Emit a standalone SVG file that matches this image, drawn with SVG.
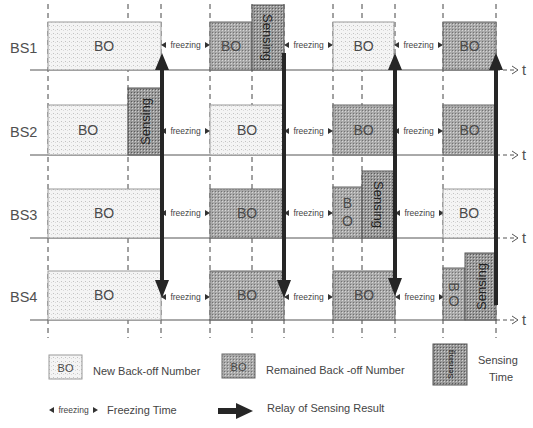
<svg xmlns="http://www.w3.org/2000/svg" width="533" height="428" viewBox="0 0 533 428">
<style>
.lab{font-family:"Liberation Sans",Arial,sans-serif;font-size:14.5px;fill:#505050}
.bo{font-family:"Liberation Sans",Arial,sans-serif;font-size:14px;fill:#4a4a4a;text-anchor:middle}
.fz{font-family:"Liberation Sans",Arial,sans-serif;font-size:8.5px;fill:#444}
.sn{font-family:"Liberation Sans",Arial,sans-serif;font-size:13px;fill:#222;text-anchor:middle}
.lg{font-family:"Liberation Sans",Arial,sans-serif;font-size:11px;fill:#444}
.light{fill:url(#pl);stroke:#9a9a9a;stroke-width:1}
.dark{fill:url(#pd);stroke:#666;stroke-width:1}
.sens{fill:url(#ps);stroke:#555;stroke-width:1}
.axis{stroke:#555;stroke-width:1;fill:none}
.vd{stroke:#444;stroke-width:1;stroke-dasharray:5 4;fill:none}
.relay{fill:#262626}
</style>
<defs>
<pattern id="pl" width="4" height="4" patternUnits="userSpaceOnUse"><rect width="4" height="4" fill="#f4f4f4"/><rect x="1" y="1" width="1" height="1" fill="#c2c2c2"/><rect x="3" y="2" width="1" height="1" fill="#dadada"/></pattern>
<pattern id="pd" width="3" height="3" patternUnits="userSpaceOnUse"><rect width="3" height="3" fill="#a9a9a9"/><rect width="1" height="1" fill="#d6d6d6"/><rect x="2" y="2" width="1" height="1" fill="#727272"/></pattern>
<pattern id="ps" width="3" height="3" patternUnits="userSpaceOnUse"><rect width="3" height="3" fill="#999"/><rect width="1" height="1" fill="#cfcfcf"/><rect x="2" y="2" width="1" height="1" fill="#5a5a5a"/></pattern>
<g id="frz"><path d="M0,0 l5,-3 v6z M49,0 l-5,-3 v6z" fill="#333"/><text x="24.5" y="3" text-anchor="middle" class="fz">freezing</text></g>
</defs>
<rect width="533" height="428" fill="#fff"/>

<g id="grid">
<path class="vd" d="M48,4V338 M128,4V338 M161,4V338 M210,4V338 M252,4V338 M284,4V338 M333,4V338 M362,4V338 M395,4V338 M443,4V338 M496,4V338"/>
</g>

<g id="axes">
<path class="axis" d="M30,70H496 M30,155H496 M30,238H496 M30,320H496"/>
<path class="axis" stroke-dasharray="4 3" d="M496,70H516 M496,155H516 M496,238H516 M496,320H516"/>
<path class="axis" d="M512,66L518,70L512,74 M512,151L518,155L512,159 M512,234L518,238L512,242 M512,316L518,320L512,324"/>
<text class="lab" x="522" y="75">t</text>
<text class="lab" x="522" y="160">t</text>
<text class="lab" x="522" y="243">t</text>
<text class="lab" x="522" y="325">t</text>
</g>

<g id="BS1">
<text class="lab" x="10" y="53">BS1</text>
<rect class="light" x="48" y="22" width="113" height="48"/><text class="bo" x="104" y="51">BO</text>
<use href="#frz" x="161" y="45"/>
<rect class="dark" x="210" y="22" width="42" height="48"/><text class="bo" x="231" y="51">BO</text>
<rect class="sens" x="252" y="5" width="32" height="65"/><text class="sn" transform="translate(268,37.5) rotate(90)" y="5">Sensing</text>
<use href="#frz" x="284" y="45"/>
<rect class="light" x="333" y="22" width="61" height="48"/><text class="bo" x="363.5" y="51">BO</text>
<use href="#frz" x="394" y="45"/>
<rect class="dark" x="443" y="22" width="53" height="48"/><text class="bo" x="469.5" y="51">BO</text>
</g>

<g id="BS2">
<text class="lab" x="10" y="137">BS2</text>
<rect class="light" x="48" y="105" width="80" height="50"/><text class="bo" x="88" y="135">BO</text>
<rect class="sens" x="128" y="88" width="33" height="67"/><text class="sn" transform="translate(144.5,121.5) rotate(-90)" y="5">Sensing</text>
<use href="#frz" x="161" y="131"/>
<rect class="light" x="210" y="105" width="74" height="50"/><text class="bo" x="247" y="135">BO</text>
<use href="#frz" x="284" y="131"/>
<rect class="dark" x="333" y="105" width="61" height="50"/><text class="bo" x="363.5" y="135">BO</text>
<use href="#frz" x="394" y="131"/>
<rect class="dark" x="443" y="105" width="53" height="50"/><text class="bo" x="469.5" y="135">BO</text>
</g>

<g id="BS3">
<text class="lab" x="10" y="220">BS3</text>
<rect class="light" x="48" y="189" width="113" height="49"/><text class="bo" x="104" y="218">BO</text>
<use href="#frz" x="161" y="213"/>
<rect class="dark" x="210" y="189" width="74" height="49"/><text class="bo" x="247" y="218">BO</text>
<use href="#frz" x="284" y="213"/>
<rect class="dark" x="333" y="187" width="29" height="51"/><text class="bo" x="347.5" y="208">B</text><text class="bo" x="347.5" y="226">O</text>
<rect class="sens" x="362" y="171" width="33" height="67"/><text class="sn" transform="translate(378.5,204.5) rotate(90)" y="5">Sensing</text>
<use href="#frz" x="395" y="213"/>
<rect class="light" x="443" y="189" width="52" height="49"/><text class="bo" x="469" y="218">BO</text>
</g>

<g id="BS4">
<text class="lab" x="10" y="302">BS4</text>
<rect class="light" x="48" y="271" width="113" height="49"/><text class="bo" x="104" y="300">BO</text>
<use href="#frz" x="161" y="297"/>
<rect class="dark" x="210" y="271" width="74" height="49"/><text class="bo" x="247" y="300">BO</text>
<use href="#frz" x="284" y="297"/>
<rect class="dark" x="333" y="271" width="62" height="49"/><text class="bo" x="364" y="300">BO</text>
<use href="#frz" x="395" y="297"/>
<rect class="dark" x="443" y="268" width="22" height="52"/><text class="bo" transform="translate(454,287) rotate(90)" y="5">B</text><text class="bo" x="454" y="306">O</text>
<rect class="sens" x="465" y="253" width="31" height="67"/><text class="sn" transform="translate(480.5,286.5) rotate(-90)" y="5">Sensing</text>
</g>

<g id="connectors">
<path class="relay" d="M160,70V280H155L162,298L169,280H164V70H169L162,53L155,70Z"/>
<path class="relay" d="M282,53V280H277L284,298L291,280H286V53Z"/>
<path class="relay" d="M393,70V278H388L395,296L402,278H397V70H402L395,53L388,70Z"/>
<path class="relay" d="M494,70V305H498V70H503L496,53L489,70Z"/>
</g>

<g id="legend">
<rect class="light" x="49" y="355" width="33" height="24"/><text class="bo" x="65.5" y="372" style="font-size:11px">BO</text>
<text class="lg" x="93" y="375">New Back-off Number</text>
<rect class="dark" x="222" y="354" width="33" height="24"/><text class="bo" x="238.5" y="371" style="font-size:11px">BO</text>
<text class="lg" x="266" y="374">Remained Back -off Number</text>
<rect class="sens" x="433" y="344" width="34" height="41"/><text class="sn" transform="translate(450,364.5) rotate(-90)" y="3" style="font-size:8px">Sensing</text>
<text class="lg" x="478" y="364">Sensing</text>
<text class="lg" x="489" y="381">Time</text>
<use href="#frz" x="49" y="410"/>
<text class="lg" x="107" y="414">Freezing Time</text>
<path class="relay" d="M218,408H236V403L253,411L236,419V414H218Z"/>
<text class="lg" x="267" y="412">Relay of Sensing Result</text>
</g>
</svg>
